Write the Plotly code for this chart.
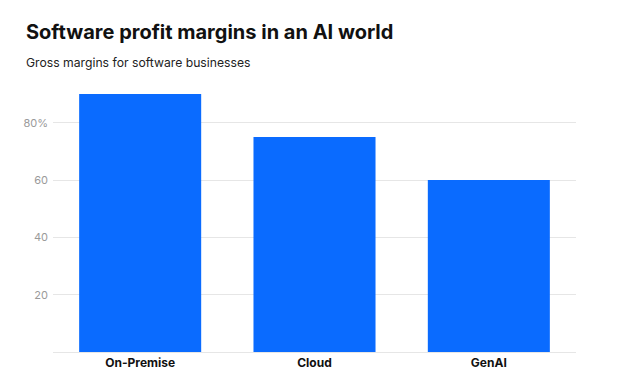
import plotly.graph_objects as go

categories = ["On-Premise", "Cloud", "GenAI"]
margins = [90, 75, 60]
tick_vals = [20, 40, 60, 80]
tick_text = ["20", "40", "60", "80%"]

fig = go.Figure(go.Bar(x=categories, y=margins, marker_color="#0A6BFF",
                       marker_line_width=0, hoverinfo="skip"))

# page body has an 8px margin, so the figure is 8px smaller and shifted
plot_w = 632 - 45 - 64
fig.update_layout(
    width=632, height=365,
    margin=dict(l=45, r=64, t=86, b=21, autoexpand=False),
    paper_bgcolor="white", plot_bgcolor="white",
    bargap=0.3,
    showlegend=False,
    font=dict(family="Inter, sans-serif"),
    annotations=[
        dict(text="<b>Software profit margins in an AI world</b>", xref="paper", yref="paper",
             x=-29 / plot_w, y=1, xanchor="left", yanchor="middle", yshift=62, showarrow=False,
             font=dict(size=20, color="#111111", family="Inter, sans-serif")),
        dict(text="Gross margins for software businesses", xref="paper", yref="paper",
             x=-29 / plot_w, y=1, xanchor="left", yanchor="middle", yshift=32, showarrow=False,
             font=dict(size=12.2, color="#222222", family="Inter, sans-serif")),
    ],
)
fig.update_yaxes(range=[0, 90], tickvals=tick_vals, ticktext=tick_text, automargin=False,
                 showgrid=True, gridcolor="#E6E6E6", gridwidth=1,
                 zeroline=True, zerolinecolor="#E6E6E6", zerolinewidth=1,
                 tickfont=dict(size=11, color="#9A9A9A"), ticks="", ticklabelstandoff=4,
                 showline=False)
fig.update_xaxes(tickfont=dict(size=12, color="#111111", family="Inter, sans-serif", weight="bold"),
                 ticks="", showline=False, ticklabelstandoff=2, automargin=False)

fig.write_html("out.html")
